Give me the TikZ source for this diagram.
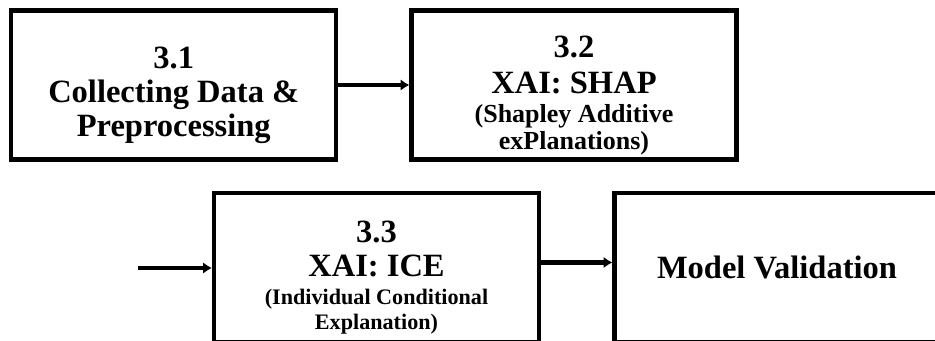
\documentclass[tikz,border=0pt]{standalone}
\usepackage{fontspec}
\setmainfont{Liberation Serif}
\usetikzlibrary{arrows.meta}

\newcommand{\subtitle}{\fontsize{14.8}{16}\selectfont}
\newcommand{\subtitlesm}{\fontsize{12.6}{14}\selectfont}
\newcommand{\toppad}{\rule{0pt}{24pt}}

\tikzset{
    stage/.style={draw=black, line width=2.3pt, minimum width=6.5cm, minimum height=2.98cm,
        inner sep=0pt, align=center, font=\bfseries\fontsize{18.5}{19.5}\selectfont},
    flow/.style={line width=2.8pt, -{Latex[length=5pt,width=6.5pt]}}
}

\begin{document}
\begin{tikzpicture}
    \path[use as bounding box, clip] (0,0) rectangle (18.7,6.82);

    \node[stage] (collect) at (3.475,5.12) {\toppad 3.1\\Collecting Data \&\\Preprocessing};
    \node[stage] (shap) at (11.48,5.12) {\toppad 3.2\\[1pt]XAI: SHAP\\[-3pt]{\subtitle (Shapley Additive}\\[-4pt]{\subtitle exPlanations)}};

    \node[stage] (ice) at (7.53,1.47) {\toppad 3.3\\XAI: ICE\\[-4pt]{\subtitlesm (Individual Conditional}\\[-5pt]{\subtitlesm Explanation)}};
    \node[stage] (valid) at (15.54,1.47) {Model Validation};

    \coordinate (feed) at (2.76,1.46);

    \draw[flow] (collect) -- (shap);
    \draw[flow] (feed) -- (feed -| ice.west);
    \draw[flow] ([yshift=1mm]ice.east) -- ([yshift=1mm]valid.west);

\end{tikzpicture}
\end{document}
